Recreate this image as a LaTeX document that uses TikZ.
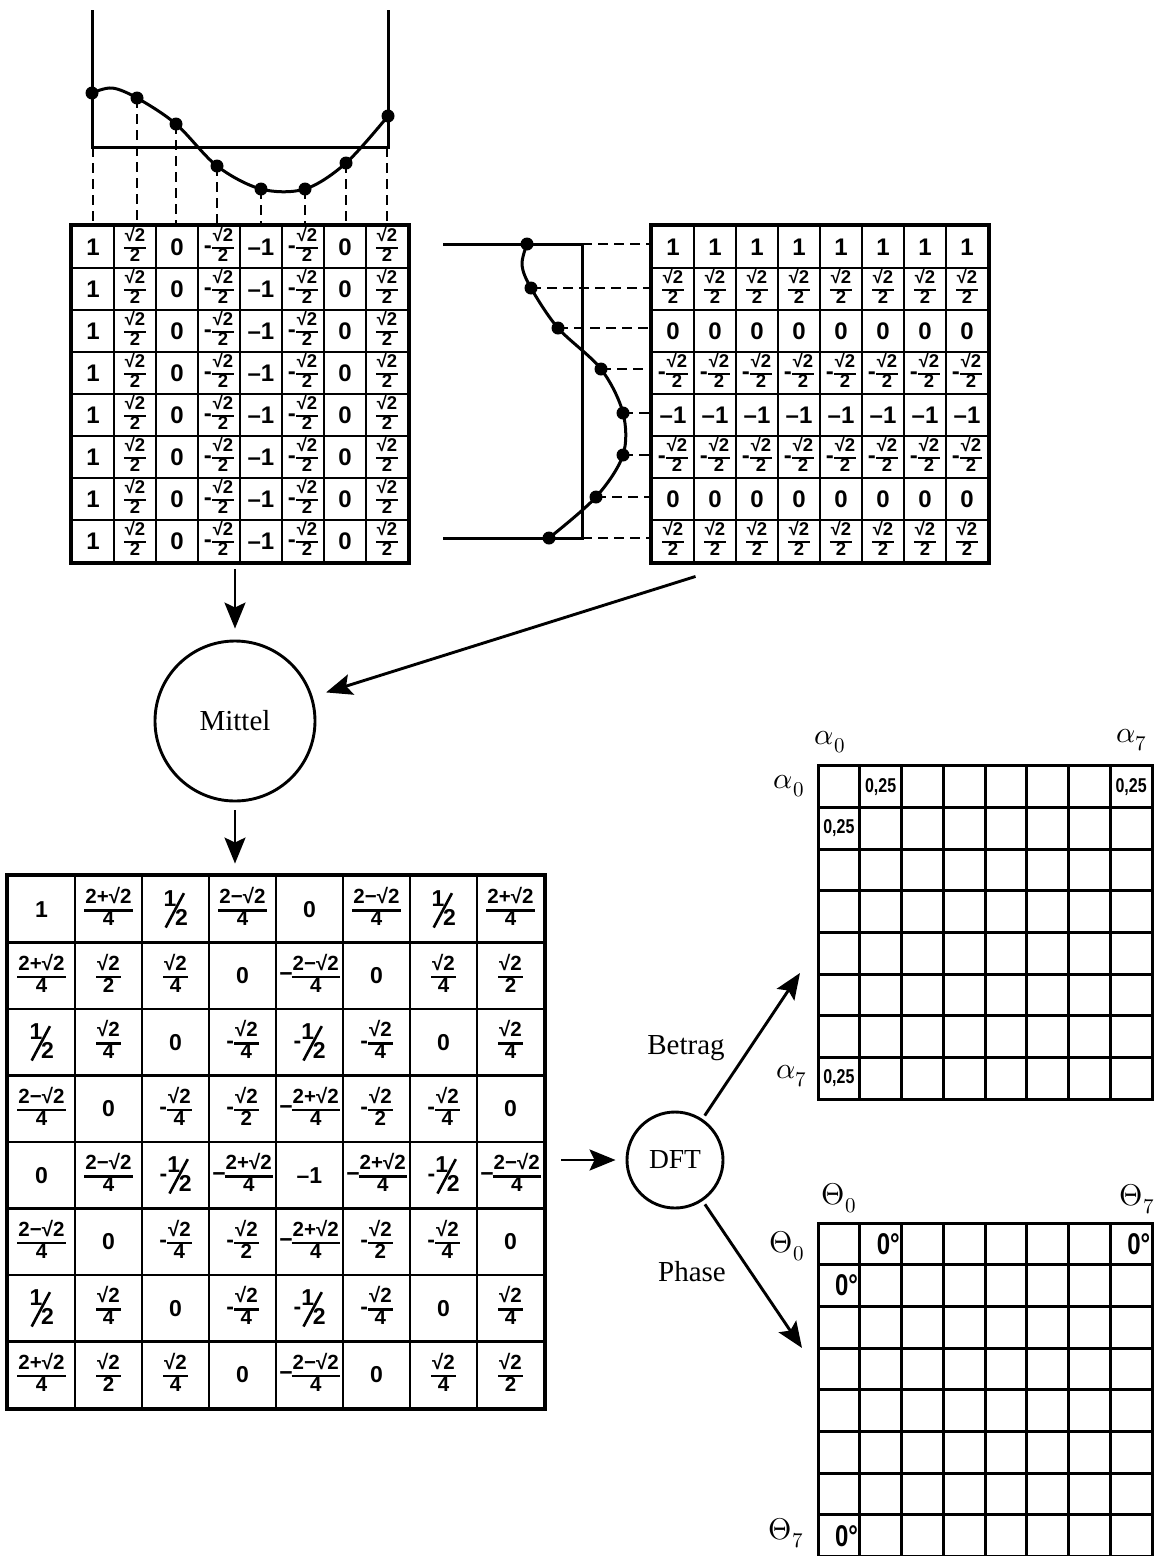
\documentclass[tikz,border=0pt]{standalone}
\usepackage{unicode-math}
\usepackage{graphicx}
\usetikzlibrary{arrows.meta}

\newfontfamily\dinfont{Liberation Sans}
\newfontfamily\dinnarrow[FakeStretch=0.8]{Liberation Sans}
\newfontfamily\labelfont{Liberation Serif}

% stacked fraction with a bold bar, size taken from \brsize
\newcommand{\brsize}{17}
\newcommand{\bruch}[2]{\ensuremath{\vcenter{\hbox{\fontsize{\brsize}{\brsize}\selectfont%
  \setlength{\arrayrulewidth}{2.4pt}\renewcommand{\arraystretch}{0.85}%
  \begin{tabular}{@{\kern1pt}c@{\kern1pt}}#1\\\hline #2\end{tabular}}}}}
% slashed one half
\newcommand{\halb}{\makebox[24pt][l]{%
  \rlap{\raisebox{9pt}{1}}%
  \rlap{\kern1pt\raisebox{-13pt}{\rotatebox{62}{\rule{39pt}{2.6pt}}}}%
  \kern11.5pt\raisebox{-10pt}{2}}}

\tikzset{
  cell/.style={draw, line width=2.9pt, minimum width=42pt, minimum height=42pt, inner sep=0pt,
    font={\dinfont\bfseries\fontsize{24}{24}\selectfont\renewcommand{\brsize}{18.5}}},
  bcell/.style={draw, line width=2.9pt, minimum width=67pt, minimum height=66.5pt, inner sep=0pt,
    font={\dinfont\bfseries\fontsize{23}{23}\selectfont\renewcommand{\brsize}{20.5}}},
  gcell/.style={draw, line width=3pt, minimum width=41.75pt, minimum height=41.65pt, inner sep=0pt},
  frame/.style={line width=3.4pt},
  wave/.style={line width=3pt},
  guide/.style={dashed, dash pattern=on 10pt off 6pt, line width=2.5pt},
  dot/.style={circle, fill, inner sep=0pt, minimum size=13pt},
  arr/.style={-{Stealth[length=26pt, width=21pt, inset=5pt]}, line width=2.9pt},
  round/.style={draw, circle, line width=2.9pt, inner sep=0pt, font=\labelfont\fontsize{29}{32}\selectfont},
  lbl/.style={font=\labelfont\fontsize{29}{32}\selectfont},
  idx/.style={font=\fontsize{30}{32}\selectfont},
  small/.style={font=\dinnarrow\bfseries\fontsize{20}{20}\selectfont, inner sep=0pt},
  deg/.style={font=\dinnarrow\bfseries\fontsize{30}{30}\selectfont, inner sep=0pt, anchor=east}
}

\begin{document}
\begin{tikzpicture}[x=1pt, y=-1pt]
  \useasboundingbox (0,0) rectangle (1154,1556);
  \clip (0,0) rectangle (1154,1556);

  % matrix sampled along the columns
  \foreach \v [count=\c from 0] in {1, \bruch{√2}{2}, 0, -\bruch{√2}{2}, –1, -\bruch{√2}{2}, 0, \bruch{√2}{2}}
    \foreach \r in {0,...,7}
      \node[cell] (L-\r-\c) at (93+42*\c, 247+42*\r) {\v};
  \draw[frame] (L-0-0.north west) rectangle (L-7-7.south east);

  % matrix sampled along the rows
  \foreach \v [count=\r from 0] in {1, \bruch{√2}{2}, 0, -\bruch{√2}{2}, –1, -\bruch{√2}{2}, 0, \bruch{√2}{2}}
    \foreach \c in {0,...,7}
      \node[cell] (R-\r-\c) at (673+42*\c, 247+42*\r) {\v};
  \draw[frame] (R-0-0.north west) rectangle (R-7-7.south east);

  % cosine above the left matrix
  \coordinate (tb) at (0,147);
  \draw[wave] (92,10) -- (92,147) -- (388,147) -- (388,10);
  \draw[guide] (L-0-0.north |- tb) -- (L-0-0.north);
  \draw[guide] (L-0-7.north |- tb) -- (L-0-7.north);
  \foreach \x/\y [count=\i] in {92/93, 137/98, 176/124, 217/166, 261/189, 305/189, 346/163, 388/116}
    \coordinate (t\i) at (\x,\y);
  \foreach \i/\c in {2/1, 3/2, 4/3, 5/4, 6/5, 7/6}
    \draw[guide] (t\i) -- (t\i |- L-0-\c.north);
  \draw[wave] plot[smooth, tension=0.55] coordinates {(92,93) (112,88) (137,98) (176,124) (217,166) (261,189) (305,189) (346,163) (388,116)};
  \foreach \i in {1,...,8}
    \node[dot] (tp\i) at (t\i) {};

  % cosine beside the right matrix
  \coordinate (vr) at (582,0);
  \draw[wave] (443,244) -- (582,244) -- (582,538) -- (443,538);
  \foreach \x/\y [count=\i] in {527/244, 531/288, 558/328, 601/369, 623/413, 623/455, 596/497, 549/538}
    \coordinate (s\i) at (\x,\y);
  \draw[guide] (s1 -| vr) -- (s1 -| R-0-0.west);
  \draw[guide] (s8 -| vr) -- (s8 -| R-7-0.west);
  \foreach \i/\r in {2/1, 3/2, 4/3, 5/4, 6/5, 7/6}
    \draw[guide] (s\i) -- (s\i -| R-\r-0.west);
  \draw[wave] plot[smooth, tension=0.55] coordinates {(527,244) (522,265) (531,288) (558,328) (601,369) (623,413) (623,455) (596,497) (549,538)};
  \foreach \i in {1,...,8}
    \node[dot] (sp\i) at (s\i) {};

  % averaging
  \node[round, minimum size=160pt] (M) at (235,721) {Mittel};
  \coordinate (rs) at ([shift={(45,13)}]R-7-0.south west);
  \draw[arr, shorten <=6pt, shorten >=11pt] (M |- L-7-0.south) -- (M);
  \draw[arr, shorten >=14pt] (rs) -- (M);

  % averaged matrix
  \foreach \row [count=\r from 0] in {
    {1, \bruch{2+√2}{4}, \halb, \bruch{2−√2}{4}, 0, \bruch{2−√2}{4}, \halb, \bruch{2+√2}{4}},
    {\bruch{2+√2}{4}, \bruch{√2}{2}, \bruch{√2}{4}, 0, −\kern-1pt\bruch{2−√2}{4}, 0, \bruch{√2}{4}, \bruch{√2}{2}},
    {\halb, \bruch{√2}{4}, 0, -\bruch{√2}{4}, -\halb, -\bruch{√2}{4}, 0, \bruch{√2}{4}},
    {\bruch{2−√2}{4}, 0, -\bruch{√2}{4}, -\bruch{√2}{2}, −\kern-1pt\bruch{2+√2}{4}, -\bruch{√2}{2}, -\bruch{√2}{4}, 0},
    {0, \bruch{2−√2}{4}, -\halb, −\kern-1pt\bruch{2+√2}{4}, –1, −\kern-1pt\bruch{2+√2}{4}, -\halb, −\kern-1pt\bruch{2−√2}{4}},
    {\bruch{2−√2}{4}, 0, -\bruch{√2}{4}, -\bruch{√2}{2}, −\kern-1pt\bruch{2+√2}{4}, -\bruch{√2}{2}, -\bruch{√2}{4}, 0},
    {\halb, \bruch{√2}{4}, 0, -\bruch{√2}{4}, -\halb, -\bruch{√2}{4}, 0, \bruch{√2}{4}},
    {\bruch{2+√2}{4}, \bruch{√2}{2}, \bruch{√2}{4}, 0, −\kern-1pt\bruch{2−√2}{4}, 0, \bruch{√2}{4}, \bruch{√2}{2}}}
  {
    \foreach \v [count=\c from 0] in \row
      \node[bcell] (B-\r-\c) at (41.5+67*\c, 909.25+66.5*\r) {\v};
  }
  \draw[frame] (B-0-0.north west) rectangle (B-7-7.south east);
  \draw[arr, shorten <=8pt, shorten >=11pt] (M) -- (M |- B-0-0.north);

  % transform
  \node[round, minimum size=96pt, font=\labelfont\fontsize{27.5}{30}\selectfont] (D) at (675,1160) {DFT};
  \draw[arr, shorten <=16pt, shorten >=10pt] (B-4-7.east |- D) -- (D);
  \coordinate (ta) at (800,973);
  \coordinate (tq) at (802,1348);
  \draw[arr, shorten <=4pt] (D) -- (ta);
  \draw[arr, shorten <=4pt] (D) -- (tq);
  \node[lbl] (betrag) at (686,1048) {Betrag};
  \node[lbl] (phase) at (692,1272) {Phase};

  % magnitude grid
  \foreach \r in {0,...,7}
    \foreach \c in {0,...,7}
      \node[gcell] (A-\r-\c) at (838.875+41.75*\c, 786.8+41.65*\r) {};
  \node[small] at (A-0-1) {0,25};
  \node[small] at (A-0-7) {0,25};
  \node[small] at (A-1-0) {0,25};
  \node[small] at (A-7-0) {0,25};
  \node[idx] (a0t) at (830,742) {$\alpha_0$};
  \node[idx] (a7t) at (1132,740) {$\alpha_7$};
  \node[idx] (a0l) at (789,786) {$\alpha_0$};
  \node[idx] (a7l) at (792,1076) {$\alpha_7$};

  % phase grid
  \foreach \r in {0,...,7}
    \foreach \c in {0,...,7}
      \node[gcell] (P-\r-\c) at (838.875+41.75*\c, 1243.85+41.7*\r) {};
  \node[deg] at ([xshift=-3pt]P-0-1.east) {0°};
  \node[deg] at ([xshift=-3pt]P-0-7.east) {0°};
  \node[deg] at ([xshift=-3pt]P-1-0.east) {0°};
  \node[deg] at ([xshift=-3pt]P-7-0.east) {0°};
  \node[idx] (q0t) at (839,1198) {$\Theta_0$};
  \node[idx] (q7t) at (1137,1199) {$\Theta_7$};
  \node[idx] (q0l) at (787,1246) {$\Theta_0$};
  \node[idx] (q7l) at (786,1533) {$\Theta_7$};
\end{tikzpicture}
\end{document}
